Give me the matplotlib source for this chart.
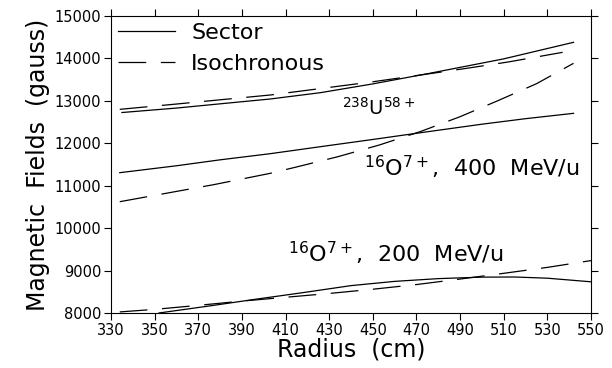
import numpy as np
import matplotlib.pyplot as plt

plt.rcParams['font.family'] = 'DejaVu Sans'
plt.rcParams['lines.scale_dashes'] = False

# 238U58+ curves
r_u_sec = [335, 360, 380, 403, 426, 450, 476, 510, 542]
b_u_sec = [12725, 12830, 12930, 13044, 13193, 13400, 13649, 13990, 14380]
r_u_iso = [334, 360, 380, 403, 426, 450, 476, 493, 512, 537]
b_u_iso = [12800, 12925, 13025, 13138, 13290, 13450, 13640, 13767, 13916, 14144]

# 16O7+, 400 MeV/u curves
r_o4_sec = [334, 360, 380, 403, 426, 450, 472, 500, 520, 542]
b_o4_sec = [11307, 11470, 11610, 11755, 11920, 12090, 12250, 12450, 12580, 12706]
r_o4_iso = [334, 377, 403, 415, 434, 453, 472, 490, 507, 525, 542]
b_o4_iso = [10623, 11024, 11292, 11441, 11684, 11960, 12280, 12627, 12997, 13404, 13885]

# 16O7+, 200 MeV/u curves
r_o2_sec = [352, 375, 396, 418, 440, 460, 480, 500, 515, 530, 550]
b_o2_sec = [8000, 8165, 8322, 8480, 8645, 8745, 8810, 8845, 8848, 8820, 8735]
r_o2_iso = [334, 350, 370, 390, 410, 430, 450, 470, 490, 510, 530, 550]
b_o2_iso = [8025, 8085, 8180, 8280, 8370, 8460, 8560, 8670, 8800, 8935, 9075, 9235]

xticks = np.arange(330, 551, 20)
yticks = np.arange(8000, 15001, 1000)

fig = plt.figure(figsize=(6.12, 3.68), dpi=100)
ax = fig.add_axes([0.1814, 0.1495, 0.7843, 0.807])

dash = (20, 10.5)
lw = 0.9
l1, = ax.plot(r_u_sec, b_u_sec, color='black', lw=lw)
l2, = ax.plot(r_u_iso, b_u_iso, color='black', lw=lw, dashes=dash)
ax.plot(r_o4_sec, b_o4_sec, color='black', lw=lw)
ax.plot(r_o4_iso, b_o4_iso, color='black', lw=lw, dashes=dash)
ax.plot(r_o2_sec, b_o2_sec, color='black', lw=lw)
ax.plot(r_o2_iso, b_o2_iso, color='black', lw=lw, dashes=dash)

ax.text(436, 12667, r'$^{238}$U$^{58+}$', fontsize=14, va='baseline')
ax.text(446, 11213, r'$^{16}$O$^{7+}$,  400  MeV/u', fontsize=16, va='baseline')
ax.text(411, 9186, r'$^{16}$O$^{7+}$,  200  MeV/u', fontsize=16, va='baseline')

ax.legend([l1, l2], ['Sector', 'Isochronous'], loc='upper left', frameon=False,
          fontsize=16, handlelength=2.6, handletextpad=0.7, labelspacing=0.5,
          borderpad=0, borderaxespad=0.3)

ax.set_xlim(330, 550)
ax.set_ylim(8000, 15000)
ax.set_xticks(xticks)
ax.set_yticks(yticks)
ax.tick_params(direction='out', length=5, width=0.8, labelsize=10.5, pad=2,
               top=True, right=True)
ax.tick_params(axis='x', labeltop=False)
ax.tick_params(axis='y', labelright=False)
ax.set_xlabel('Radius  (cm)', fontsize=17, labelpad=0)
ax.set_ylabel('Magnetic  Fields  (gauss)', fontsize=17, labelpad=3)
for s in ax.spines.values():
    s.set_linewidth(0.8)

fig.savefig('out.png', dpi=100)
